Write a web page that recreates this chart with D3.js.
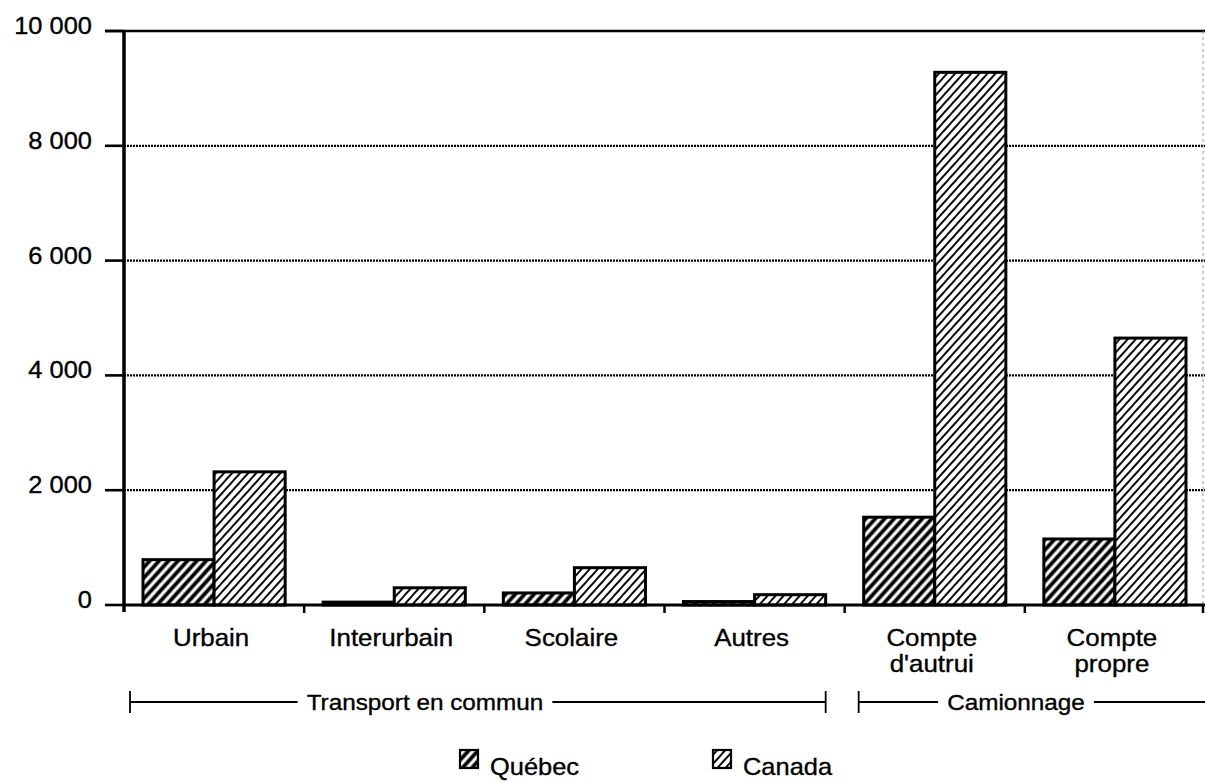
<!DOCTYPE html>
<html>
<head>
<meta charset="utf-8">
<script src="https://cdn.jsdelivr.net/npm/d3@7"></script>
<style>
  html, body { margin: 0; padding: 0; background: #fff; }
  svg { display: block; }
</style>
</head>
<body>
<svg id="chart" width="1205" height="782"></svg>
<script>
// ---- data ----
const categories = ["Urbain", "Interurbain", "Scolaire", "Autres", "Compte d'autrui", "Compte propre"];
const categoryLines = [["Urbain"], ["Interurbain"], ["Scolaire"], ["Autres"], ["Compte", "d'autrui"], ["Compte", "propre"]];
const seriesNames = ["Québec", "Canada"];
const quebecValues = [790, 50, 210, 60, 1530, 1150];
const canadaValues = [2320, 300, 650, 180, 9280, 4650];
const yTicks = [0, 2000, 4000, 6000, 8000, 10000];
const yTickLabels = ["0", "2 000", "4 000", "6 000", "8 000", "10 000"];
const groups = [
  { label: "Transport en commun", first: 0, last: 3 },
  { label: "Camionnage", first: 4, last: 5 }
];

// ---- layout ----
const svg = d3.select("#chart");
const FONT = "'Liberation Sans', Arial, Helvetica, sans-serif";
const x0 = d3.scaleBand().domain(categories).range([124, 1205]).paddingInner(0).paddingOuter(0);
const x1 = d3.scaleBand().domain(seriesNames).range([19, x0.bandwidth() - 19]).padding(0);
const y = d3.scaleLinear().domain([0, 10000]).range([605, 31]);

function label(g, txt, x, yy, anchor, size, sx) {
  return g.append("text")
    .attr("transform", `translate(${x},${yy}) scale(${sx},1)`)
    .attr("text-anchor", anchor)
    .attr("font-family", FONT)
    .attr("font-size", size)
    .attr("fill", "#000")
    .attr("stroke", "#000").attr("stroke-width", 0.35)
    .text(txt);
}

// ---- patterns ----
const defs = svg.append("defs");
function hatch(id, spacing, width) {
  const p = defs.append("pattern")
    .attr("id", id).attr("patternUnits", "userSpaceOnUse")
    .attr("width", spacing).attr("height", spacing)
    .attr("patternTransform", "rotate(42)");
  p.append("rect").attr("width", spacing).attr("height", spacing).attr("fill", "#fff");
  p.append("line").attr("x1", spacing / 2).attr("y1", 0).attr("x2", spacing / 2).attr("y2", spacing)
    .attr("stroke", "#000").attr("stroke-width", width);
}
hatch("hatchQ", 7, 3.8);
hatch("hatchC", 6, 1.9);
const fills = { "Québec": "url(#hatchQ)", "Canada": "url(#hatchC)" };

// ---- grid ----
const grid = svg.append("g");
yTicks.filter(t => t > 0 && t < 10000).forEach(t => {
  grid.append("line").attr("x1", 124).attr("x2", 1205).attr("y1", y(t)).attr("y2", y(t))
    .attr("stroke", "#000").attr("stroke-width", 2.2).attr("stroke-dasharray", "2,1");
});
// top frame line
grid.append("line").attr("x1", 105).attr("x2", 1205).attr("y1", y(10000)).attr("y2", y(10000))
  .attr("stroke", "#000").attr("stroke-width", 2.6);
// faint right edge
grid.append("line").attr("x1", 1203).attr("x2", 1203).attr("y1", y(10000)).attr("y2", y(0))
  .attr("stroke", "#999").attr("stroke-width", 1).attr("stroke-dasharray", "3,3");

// ---- bars ----
const data = categories.map((c, i) => ({ cat: c, vals: [
  { s: "Québec", v: quebecValues[i] }, { s: "Canada", v: canadaValues[i] }] }));
const bars = svg.append("g");
data.forEach(d => {
  d.vals.forEach(e => {
    bars.append("rect")
      .attr("x", x0(d.cat) + x1(e.s))
      .attr("y", y(e.v))
      .attr("width", x1.bandwidth())
      .attr("height", y(0) - y(e.v))
      .attr("fill", fills[e.s])
      .attr("stroke", "#000").attr("stroke-width", 3);
  });
});

// ---- axes ----
const axes = svg.append("g");
axes.append("line").attr("x1", 124).attr("x2", 1205).attr("y1", y(0)).attr("y2", y(0))
  .attr("stroke", "#000").attr("stroke-width", 3);
axes.append("line").attr("x1", 124).attr("x2", 124).attr("y1", y(10000) - 1).attr("y2", y(0) + 7)
  .attr("stroke", "#000").attr("stroke-width", 3.5);
yTicks.forEach((t, i) => {
  axes.append("line").attr("x1", 105).attr("x2", 124).attr("y1", y(t)).attr("y2", y(t))
    .attr("stroke", "#000").attr("stroke-width", 2.6);
  label(axes, yTickLabels[i], 92, y(t) + 3, "end", 24, 1.06);
});
categories.forEach((c, i) => {
  if (i === 0) return;
  const xb = x0(c);
  axes.append("line").attr("x1", xb).attr("x2", xb).attr("y1", y(0)).attr("y2", y(0) + 8)
    .attr("stroke", "#000").attr("stroke-width", 2.5);
});
axes.append("line").attr("x1", 1203).attr("x2", 1203).attr("y1", y(0)).attr("y2", y(0) + 8)
  .attr("stroke", "#000").attr("stroke-width", 2.5);

// category labels
categories.forEach((c, i) => {
  const cx = x0(c) + x0.bandwidth() / 2 - 3;
  categoryLines[i].forEach((ln, j) => {
    label(axes, ln, cx, 646 + j * 26, "middle", 24, 1.08);
  });
});

// ---- group brackets ----
const gb = svg.append("g");
const by = 702;
groups.forEach((g, gi) => {
  const xs = x0(categories[g.first]) + (gi === 0 ? 6 : 14);
  const xe = gi === groups.length - 1 ? 1205 : x0(categories[g.last]) + x0.bandwidth() - 19;
  const mid = gi === 0 ? 425 : 1016;
  const t = label(gb, g.label, mid, by + 8, "middle", 22.5, 1.08);
  const tw = t.node().getComputedTextLength() * 1.08;
  const gap = 9;
  gb.append("line").attr("x1", xs).attr("x2", mid - tw / 2 - gap).attr("y1", by).attr("y2", by)
    .attr("stroke", "#000").attr("stroke-width", 1.8);
  gb.append("line").attr("x1", mid + tw / 2 + gap).attr("x2", xe).attr("y1", by).attr("y2", by)
    .attr("stroke", "#000").attr("stroke-width", 1.8);
  gb.append("line").attr("x1", xs).attr("x2", xs).attr("y1", by - 11).attr("y2", by + 11)
    .attr("stroke", "#000").attr("stroke-width", 1.8);
  if (gi === 0) {
    gb.append("line").attr("x1", xe).attr("x2", xe).attr("y1", by - 11).attr("y2", by + 11)
      .attr("stroke", "#000").attr("stroke-width", 1.8);
  }
});

// ---- legend ----
const leg = svg.append("g");
const legendX = [460, 713];
seriesNames.forEach((s, i) => {
  leg.append("rect").attr("x", legendX[i]).attr("y", 750).attr("width", 18).attr("height", 18)
    .attr("fill", fills[s]).attr("stroke", "#000").attr("stroke-width", 2.2);
  label(leg, s, legendX[i] + 30, 775, "start", 24, 1.06);
});
</script>
</body>
</html>
